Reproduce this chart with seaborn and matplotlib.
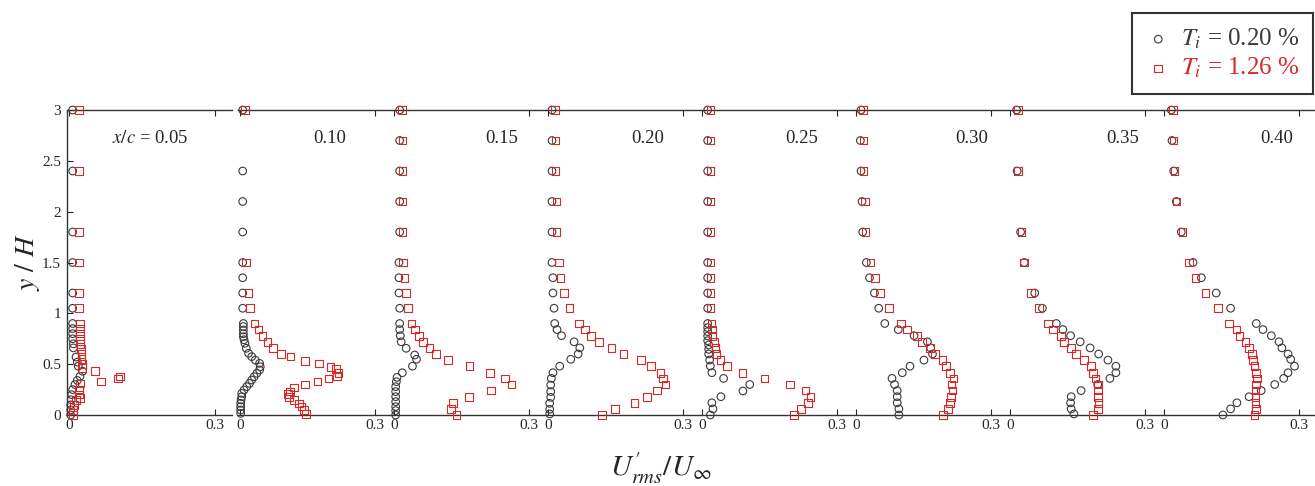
import numpy as np
import pandas as pd
import matplotlib
matplotlib.use("Agg")
import matplotlib.pyplot as plt
import seaborn as sns

# streamwise stations x/c
stations = ["0.05", "0.10", "0.15", "0.20", "0.25", "0.30", "0.35", "0.40"]
cases = ["$T_i$ = 0.20 %", "$T_i$ = 1.26 %"]

# ---- x/c = 0.05 ----
y05_lo = [3.0, 2.4, 1.8, 1.5, 1.2, 1.05, 0.9, 0.85, 0.8, 0.75, 0.7, 0.66, 0.57, 0.52, 0.48, 0.43,
          0.38, 0.34, 0.3, 0.25, 0.2, 0.15, 0.1, 0.05, 0.0]
u05_lo = [0.0075, 0.0075, 0.0075, 0.0075, 0.0075, 0.0075, 0.0075, 0.0075, 0.0075, 0.0075, 0.009, 0.009,
          0.0144, 0.017, 0.019, 0.028, 0.0226, 0.017, 0.0123, 0.0075, 0.0055, 0.0045, 0.0034, 0.0034, 0.0034]
y05_hi = [3.0, 2.4, 1.8, 1.5, 1.2, 1.05, 0.9, 0.85, 0.8, 0.75, 0.7, 0.65, 0.6, 0.55, 0.5, 0.46,
          0.43, 0.33, 0.36, 0.38, 0.31, 0.25, 0.2, 0.17, 0.15, 0.1, 0.05, 0.0]
u05_hi = [0.021, 0.021, 0.021, 0.021, 0.021, 0.021, 0.022, 0.022, 0.023, 0.023, 0.024, 0.025, 0.026, 0.026,
          0.028, 0.027, 0.053, 0.066, 0.101, 0.105, 0.023, 0.021, 0.02, 0.022, 0.015, 0.01, 0.008, 0.008]

# ---- x/c = 0.10 ----
y10_lo = [3.0, 2.4, 2.1, 1.8, 1.5, 1.35, 1.2, 1.05, 0.9, 0.87, 0.836, 0.8, 0.77, 0.74, 0.705, 0.656,
          0.607, 0.574, 0.54, 0.508, 0.475, 0.443, 0.41, 0.377, 0.344, 0.311, 0.279, 0.246, 0.213,
          0.18, 0.148, 0.115, 0.082, 0.049, 0.016]
u10_lo = [0.006, 0.006, 0.006, 0.006, 0.006, 0.006, 0.006, 0.006, 0.0075, 0.0075, 0.0075, 0.0075, 0.0075,
          0.009, 0.011, 0.014, 0.019, 0.026, 0.034, 0.0435, 0.045, 0.0435, 0.0375, 0.0315, 0.026, 0.021,
          0.015, 0.009, 0.0038, 0.0038, 0.0023, 0.0015, 0.0015, 0.0015, 0.0015]
y10_hi = [3.0, 1.5, 1.2, 1.05, 0.9, 0.84, 0.78, 0.72, 0.66, 0.6, 0.574, 0.534, 0.508, 0.475, 0.45,
          0.416, 0.384, 0.36, 0.328, 0.3, 0.272, 0.23, 0.207, 0.18, 0.148, 0.115, 0.082, 0.049, 0.01]
u10_hi = [0.011, 0.0135, 0.019, 0.0225, 0.032, 0.041, 0.05, 0.0615, 0.0735, 0.0915, 0.1125, 0.144, 0.176,
          0.201, 0.214, 0.219, 0.216, 0.197, 0.1725, 0.144, 0.12, 0.111, 0.1065, 0.109, 0.12, 0.131,
          0.1365, 0.1425, 0.146]

# ---- x/c = 0.15 ----
y15_lo = [3.0, 2.7, 2.4, 2.1, 1.8, 1.5, 1.35, 1.2, 1.05, 0.9, 0.84, 0.78, 0.72, 0.656, 0.59, 0.548,
          0.48, 0.416, 0.37, 0.328, 0.279, 0.23, 0.18, 0.131, 0.082, 0.043, 0.0]
u15_lo = [0.0126, 0.0126, 0.0126, 0.0126, 0.0126, 0.011, 0.011, 0.011, 0.0126, 0.0126, 0.0126, 0.014,
          0.016, 0.027, 0.046, 0.05, 0.041, 0.0185, 0.0067, 0.0052, 0.0037, 0.0037, 0.0037, 0.0037,
          0.0037, 0.0037, 0.0037]
y15_hi = [3.0, 2.7, 2.4, 2.1, 1.8, 1.5, 1.35, 1.2, 1.05, 0.9, 0.84, 0.78, 0.72, 0.66, 0.6, 0.54, 0.48,
          0.416, 0.36, 0.3, 0.24, 0.18, 0.12, 0.062, 0.0]
u15_hi = [0.0178, 0.0185, 0.0185, 0.0185, 0.0185, 0.02, 0.0237, 0.026, 0.031, 0.0385, 0.047, 0.0556,
          0.064, 0.079, 0.094, 0.12, 0.168, 0.214, 0.246, 0.261, 0.216, 0.167, 0.131, 0.126, 0.1385]

# ---- x/c = 0.20 ----
y20_lo = [3.0, 2.7, 2.4, 2.1, 1.8, 1.5, 1.35, 1.2, 1.05, 0.9, 0.84, 0.78, 0.72, 0.66, 0.6, 0.548, 0.48,
          0.416, 0.36, 0.295, 0.23, 0.174, 0.115, 0.056, 0.01]
u20_lo = [0.0089, 0.0089, 0.0089, 0.0089, 0.0089, 0.0089, 0.011, 0.011, 0.0134, 0.0149, 0.02, 0.03,
          0.058, 0.0707, 0.067, 0.0506, 0.026, 0.011, 0.0074, 0.006, 0.006, 0.006, 0.0037, 0.0037, 0.0037]
y20_hi = [3.0, 2.7, 2.4, 2.1, 1.8, 1.5, 1.35, 1.2, 1.05, 0.9, 0.84, 0.78, 0.72, 0.66, 0.6, 0.54, 0.48,
          0.416, 0.36, 0.3, 0.24, 0.18, 0.12, 0.059, 0.0]
u20_hi = [0.0149, 0.0164, 0.0164, 0.0186, 0.0186, 0.0246, 0.028, 0.0357, 0.048, 0.0685, 0.082, 0.095,
          0.114, 0.1415, 0.168, 0.206, 0.2286, 0.25, 0.256, 0.261, 0.242, 0.22, 0.192, 0.149, 0.1206]

# ---- x/c = 0.25 ----
y25_lo = [3.0, 2.7, 2.4, 2.1, 1.8, 1.5, 1.35, 1.2, 1.05, 0.9, 0.86, 0.82, 0.777, 0.731, 0.689, 0.646,
          0.6, 0.541, 0.482, 0.416, 0.36, 0.3, 0.236, 0.18, 0.12, 0.06, 0.0]
u25_lo = [0.0126, 0.0126, 0.0126, 0.0126, 0.0126, 0.0126, 0.0126, 0.0126, 0.0126, 0.0126, 0.0126,
          0.0126, 0.0126, 0.0126, 0.0148, 0.0148, 0.0148, 0.017, 0.0185, 0.022, 0.048, 0.106, 0.091,
          0.042, 0.022, 0.0244, 0.0185]
y25_hi = [3.0, 2.7, 2.4, 2.1, 1.8, 1.5, 1.35, 1.2, 1.05, 0.9, 0.84, 0.78, 0.72, 0.66, 0.6, 0.54, 0.48,
          0.416, 0.36, 0.3, 0.24, 0.18, 0.12, 0.06, 0.0]
u25_hi = [0.0185, 0.0185, 0.0185, 0.0185, 0.0185, 0.0185, 0.0185, 0.0185, 0.0185, 0.0207, 0.022,
          0.0237, 0.026, 0.0296, 0.032, 0.041, 0.0556, 0.09, 0.1385, 0.195, 0.23, 0.241, 0.235, 0.22, 0.204]

# ---- x/c = 0.30 ----
y30_lo = [3.0, 2.7, 2.4, 2.1, 1.8, 1.5, 1.35, 1.2, 1.05, 0.9, 0.84, 0.78, 0.72, 0.66, 0.6, 0.54, 0.48,
          0.416, 0.36, 0.3, 0.24, 0.18, 0.12, 0.06, 0.0]
u30_lo = [0.0112, 0.0097, 0.0112, 0.0134, 0.0149, 0.023, 0.03, 0.041, 0.0506, 0.064, 0.094, 0.129,
          0.1586, 0.166, 0.17, 0.151, 0.12, 0.1028, 0.08, 0.0856, 0.0916, 0.0916, 0.0916, 0.0953, 0.0953]
y30_hi = [3.0, 2.7, 2.4, 2.1, 1.8, 1.5, 1.35, 1.2, 1.05, 0.9, 0.84, 0.78, 0.72, 0.66, 0.6, 0.54, 0.48,
          0.416, 0.36, 0.3, 0.24, 0.18, 0.12, 0.06, 0.0]
u30_hi = [0.0156, 0.0171, 0.0171, 0.0194, 0.0208, 0.032, 0.0417, 0.0529, 0.073, 0.1005, 0.114, 0.136,
          0.146, 0.1646, 0.1757, 0.192, 0.1995, 0.209, 0.2167, 0.212, 0.2144, 0.2107, 0.2085, 0.2048, 0.1936]

# ---- x/c = 0.35 ----
y35_lo = [3.0, 2.4, 1.8, 1.5, 1.2, 1.05, 0.9, 0.84, 0.78, 0.72, 0.66, 0.6, 0.54, 0.48, 0.416, 0.36,
          0.3, 0.24, 0.18, 0.12, 0.06, 0.01]
u35_lo = [0.0147, 0.016, 0.0235, 0.0316, 0.055, 0.072, 0.103, 0.1176, 0.1346, 0.156, 0.178, 0.197,
          0.2176, 0.2353, 0.2353, 0.222, 0.195, 0.158, 0.136, 0.1346, 0.136, 0.142]
y35_hi = [3.0, 2.4, 1.8, 1.5, 1.2, 1.05, 0.9, 0.84, 0.78, 0.72, 0.66, 0.6, 0.54, 0.48, 0.416, 0.36,
          0.3, 0.24, 0.18, 0.12, 0.06, 0.0]
u35_hi = [0.0184, 0.0184, 0.0257, 0.0316, 0.0463, 0.0647, 0.0846, 0.0956, 0.114, 0.12, 0.136, 0.147,
          0.164, 0.18, 0.184, 0.19, 0.196, 0.196, 0.196, 0.197, 0.195, 0.185]

# ---- x/c = 0.40 ----
y40_lo = [3.0, 2.7, 2.4, 2.1, 1.8, 1.5, 1.35, 1.2, 1.05, 0.9, 0.84, 0.78, 0.72, 0.66, 0.6, 0.548, 0.48,
          0.416, 0.36, 0.3, 0.24, 0.18, 0.12, 0.06, 0.0]
u40_lo = [0.0163, 0.0178, 0.0215, 0.0274, 0.0385, 0.0644, 0.083, 0.116, 0.148, 0.205, 0.22, 0.2385,
          0.2556, 0.262, 0.2756, 0.2815, 0.29, 0.2756, 0.266, 0.246, 0.216, 0.189, 0.162, 0.148, 0.131]
y40_hi = [3.0, 2.7, 2.4, 2.1, 1.8, 1.5, 1.35, 1.2, 1.05, 0.9, 0.84, 0.78, 0.72, 0.66, 0.6, 0.54, 0.48,
          0.416, 0.36, 0.3, 0.24, 0.18, 0.12, 0.06, 0.0]
u40_hi = [0.02, 0.0215, 0.0237, 0.0274, 0.0407, 0.0556, 0.0704, 0.0926, 0.12, 0.1444, 0.1607, 0.168,
          0.1815, 0.189, 0.1956, 0.198, 0.2015, 0.205, 0.2067, 0.205, 0.2037, 0.2037, 0.2037, 0.205, 0.2015]

profiles = {
    "0.05": (u05_lo, y05_lo, u05_hi, y05_hi),
    "0.10": (u10_lo, y10_lo, u10_hi, y10_hi),
    "0.15": (u15_lo, y15_lo, u15_hi, y15_hi),
    "0.20": (u20_lo, y20_lo, u20_hi, y20_hi),
    "0.25": (u25_lo, y25_lo, u25_hi, y25_hi),
    "0.30": (u30_lo, y30_lo, u30_hi, y30_hi),
    "0.35": (u35_lo, y35_lo, u35_hi, y35_hi),
    "0.40": (u40_lo, y40_lo, u40_hi, y40_hi),
}

rows = []
for st in stations:
    ul, yl, uh, yh = profiles[st]
    rows += [(st, cases[0], u, y) for u, y in zip(ul, yl)]
    rows += [(st, cases[1], u, y) for u, y in zip(uh, yh)]
df = pd.DataFrame(rows, columns=["station", "case", "urms", "y"])

sns.set_theme(style="ticks")
plt.rcParams["font.family"] = ["Liberation Serif", "DejaVu Serif"]
plt.rcParams["mathtext.fontset"] = "stix"

colors = {cases[0]: "#3a3a3a", cases[1]: "#d42a2a"}
markers = {cases[0]: "o", cases[1]: "s"}

# panel text x-positions (data units) and layout in pixels
label_x = [0.166, 0.20, 0.24, 0.222, 0.222, 0.258, 0.251, 0.251]
W, H = 1315, 486
origins = [69] + [240 + 154 * k for k in range(7)]
scales = [486.7] + [450.0] * 7
xmin, xmax = -0.005, 0.335

fig = plt.figure(figsize=(W / 100, H / 100), dpi=100)
axes = []
for i, st in enumerate(stations):
    left = origins[i] + xmin * scales[i]
    width = (xmax - xmin) * scales[i]
    ax = fig.add_axes([left / W, 71 / H, width / W, 305 / H])
    axes.append(ax)
    sub = df[df["station"] == st]
    for c in cases:
        d = sub[sub["case"] == c]
        sns.scatterplot(data=d, x="urms", y="y", ax=ax, marker=markers[c], s=30,
                        facecolor="none", edgecolor=colors[c], linewidth=0.8,
                        clip_on=False, zorder=3, label=c, legend=False)
    ax.set_xlim(xmin, xmax)
    ax.set_ylim(0, 3)
    ax.set_xticks([0, 0.3])
    ax.set_xticklabels(["0", "0.3"])
    ax.tick_params(axis="x", direction="in", top=True, length=4, width=0.8,
                   labelsize=11, pad=3)
    ax.set_xlabel("")
    ax.set_ylabel("")
    for sp in ["top", "bottom"]:
        ax.spines[sp].set_linewidth(1.0)
        ax.spines[sp].set_color("#333333")
    ax.spines["right"].set_visible(False)
    if i == 0:
        ax.spines["left"].set_linewidth(1.0)
        ax.spines["left"].set_color("#333333")
        ax.set_yticks([0, 0.5, 1, 1.5, 2, 2.5, 3])
        ax.set_yticklabels(["0", "0.5", "1", "1.5", "2", "2.5", "3"])
        ax.tick_params(axis="y", direction="in", length=4, width=0.8, labelsize=11, pad=4)
        ax.set_ylabel("$y\\ /\\ H$", fontsize=20)
        ax.yaxis.set_label_coords(-0.15, 0.5)
        ax.text(label_x[i], 2.72, "$x/c$ = " + st, ha="center", va="center", fontsize=13.5)
    else:
        ax.spines["left"].set_visible(False)
        ax.set_yticks([])
        ax.text(label_x[i], 2.72, st, ha="center", va="center", fontsize=13.5)
    ax.patch.set_alpha(0)

fig.text(661 / W, 1 - 468 / H, "$U^{\\prime}_{rms}/U_{\\infty}$", ha="center", va="center", fontsize=21)

handles, labels = axes[0].get_legend_handles_labels()
leg = fig.legend(handles, labels, loc="upper right", bbox_to_anchor=(1313 / W, 1 - 13 / H),
                 borderaxespad=0, frameon=True, fancybox=False, edgecolor="black", fontsize=18,
                 labelcolor=[colors[cases[0]], colors[cases[1]]], handletextpad=0.4,
                 handlelength=1.0, borderpad=0.55, labelspacing=0.2, markerscale=1.0)
leg.get_frame().set_linewidth(1.5)

fig.savefig("out.png", dpi=100)
